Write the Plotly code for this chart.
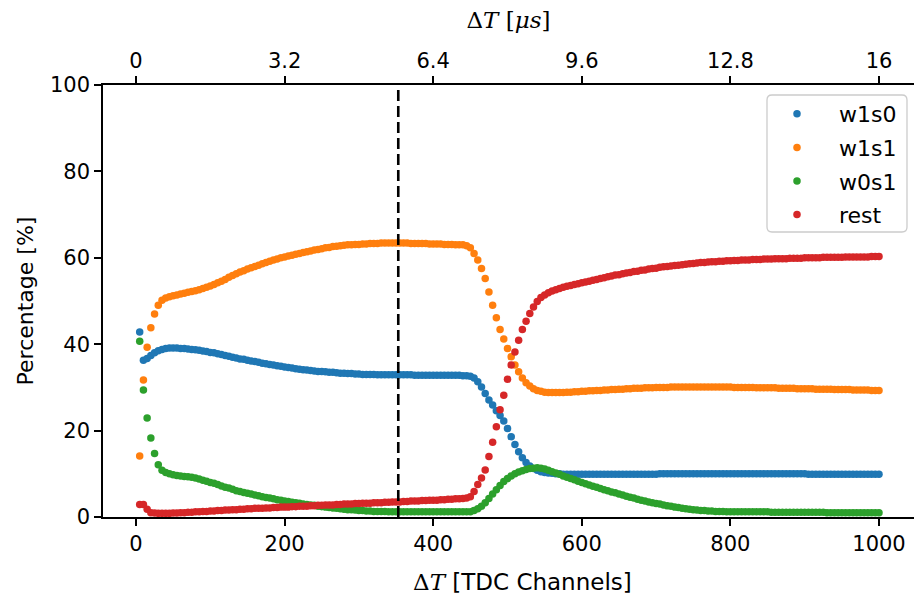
import plotly.graph_objects as go

# TDC channel grid (5-channel bins)
channels = list(range(5, 1001, 5))

w1s0 = [
    42.8, 36.3, 36.7, 37.4, 38.0, 38.5, 38.8, 39.0, 39.1, 39.1,
    39.1, 39.0, 39.0, 38.9, 38.8, 38.7, 38.6, 38.4, 38.3, 38.1,
    38.0, 37.8, 37.6, 37.4, 37.2, 37.0, 36.8, 36.6, 36.5, 36.3,
    36.1, 36.0, 35.8, 35.6, 35.5, 35.3, 35.2, 35.0, 34.9, 34.7,
    34.6, 34.5, 34.3, 34.2, 34.1, 34.0, 33.9, 33.8, 33.7, 33.7,
    33.6, 33.5, 33.5, 33.4, 33.3, 33.3, 33.2, 33.2, 33.1, 33.1,
    33.0, 33.0, 33.0, 33.0, 32.9, 32.9, 32.9, 32.9, 32.9, 32.9,
    32.9, 32.9, 32.9, 32.9, 32.8, 32.8, 32.8, 32.8, 32.8, 32.8,
    32.8, 32.8, 32.8, 32.8, 32.8, 32.8, 32.8, 32.7, 32.7, 32.6,
    32.2, 31.3, 30.1, 28.6, 27.1, 25.9, 24.6, 23.5, 22.2, 20.5,
    18.6, 16.8, 15.1, 13.7, 12.6, 11.8, 11.2, 10.8, 10.5, 10.3,
    10.2, 10.1, 10.0, 10.0, 9.9, 9.9, 9.9, 9.9, 9.9, 9.9,
    9.9, 9.9, 9.9, 9.9, 9.9, 9.9, 9.9, 9.9, 9.9, 9.9,
    9.9, 9.9, 9.9, 9.9, 9.9, 9.9, 9.9, 9.9, 9.9, 9.9,
    10.0, 10.0, 10.0, 10.0, 10.0, 10.0, 10.0, 10.0, 10.0, 10.0,
    10.0, 10.0, 10.0, 10.0, 10.0, 10.0, 10.0, 10.0, 10.0, 10.0,
    10.0, 10.0, 10.0, 10.0, 10.0, 10.0, 10.0, 10.0, 10.0, 10.0,
    10.0, 10.0, 10.0, 10.0, 10.0, 10.0, 10.0, 10.0, 10.0, 10.0,
    9.9, 9.9, 9.9, 9.9, 9.9, 9.9, 9.9, 9.9, 9.9, 9.9,
    9.9, 9.9, 9.9, 9.9, 9.9, 9.9, 9.9, 9.9, 9.9, 9.9,
]

w1s1 = [
    14.1, 31.7, 39.3, 43.8, 47.0, 49.0, 50.2, 50.7, 51.0, 51.2,
    51.4, 51.6, 51.8, 52.0, 52.2, 52.4, 52.6, 52.9, 53.2, 53.5,
    53.8, 54.2, 54.6, 55.0, 55.5, 55.9, 56.3, 56.7, 57.0, 57.4,
    57.7, 58.0, 58.3, 58.6, 58.9, 59.2, 59.5, 59.7, 60.0, 60.2,
    60.4, 60.6, 60.8, 61.0, 61.2, 61.4, 61.6, 61.8, 61.9, 62.1,
    62.3, 62.4, 62.6, 62.7, 62.8, 62.9, 63.0, 63.0, 63.1, 63.1,
    63.2, 63.2, 63.3, 63.3, 63.3, 63.4, 63.4, 63.4, 63.4, 63.4,
    63.4, 63.4, 63.4, 63.3, 63.3, 63.3, 63.3, 63.3, 63.2, 63.2,
    63.2, 63.2, 63.1, 63.1, 63.1, 63.0, 63.0, 63.0, 62.8, 62.3,
    61.0, 59.5, 57.5, 55.2, 52.1, 49.0, 46.1, 43.4, 41.2, 39.0,
    37.1, 35.2, 33.6, 32.2, 31.1, 30.3, 29.7, 29.3, 29.1, 28.9,
    28.8, 28.8, 28.8, 28.8, 28.8, 28.9, 28.9, 29.0, 29.0, 29.1,
    29.1, 29.2, 29.2, 29.3, 29.3, 29.4, 29.4, 29.5, 29.5, 29.6,
    29.6, 29.7, 29.7, 29.8, 29.8, 29.8, 29.9, 29.9, 29.9, 30.0,
    30.0, 30.0, 30.0, 30.1, 30.1, 30.1, 30.1, 30.1, 30.1, 30.1,
    30.1, 30.1, 30.1, 30.1, 30.1, 30.1, 30.1, 30.1, 30.1, 30.1,
    30.0, 30.0, 30.0, 30.0, 30.0, 30.0, 29.9, 29.9, 29.9, 29.9,
    29.9, 29.9, 29.8, 29.8, 29.8, 29.8, 29.8, 29.7, 29.7, 29.7,
    29.7, 29.7, 29.6, 29.6, 29.6, 29.6, 29.6, 29.5, 29.5, 29.5,
    29.5, 29.5, 29.4, 29.4, 29.4, 29.4, 29.4, 29.3, 29.3, 29.3,
]

w0s1 = [
    40.7, 29.4, 22.9, 18.3, 14.7, 12.1, 10.8, 10.3, 10.0, 9.8,
    9.6, 9.5, 9.4, 9.3, 9.2, 9.0, 8.8, 8.5, 8.3, 8.0,
    7.8, 7.5, 7.2, 6.9, 6.7, 6.4, 6.1, 5.9, 5.7, 5.5,
    5.3, 5.1, 4.9, 4.7, 4.5, 4.4, 4.2, 4.0, 3.9, 3.7,
    3.6, 3.4, 3.3, 3.2, 3.0, 2.9, 2.8, 2.7, 2.5, 2.4,
    2.3, 2.2, 2.1, 2.0, 1.9, 1.8, 1.7, 1.7, 1.6, 1.5,
    1.5, 1.4, 1.4, 1.3, 1.3, 1.3, 1.3, 1.2, 1.2, 1.2,
    1.2, 1.2, 1.2, 1.2, 1.2, 1.2, 1.2, 1.2, 1.2, 1.2,
    1.2, 1.2, 1.2, 1.2, 1.2, 1.2, 1.2, 1.2, 1.2, 1.2,
    1.5, 1.9, 2.5, 3.3, 4.3, 5.3, 6.3, 7.3, 8.2, 8.9,
    9.5, 10.0, 10.4, 10.7, 11.0, 11.2, 11.3, 11.4, 11.3, 11.1,
    10.8, 10.5, 10.2, 9.9, 9.5, 9.2, 8.9, 8.6, 8.3, 8.0,
    7.7, 7.4, 7.1, 6.9, 6.6, 6.3, 6.1, 5.8, 5.6, 5.3,
    5.1, 4.8, 4.6, 4.4, 4.1, 3.9, 3.7, 3.5, 3.3, 3.1,
    3.0, 2.8, 2.6, 2.5, 2.3, 2.2, 2.0, 1.9, 1.8, 1.7,
    1.6, 1.5, 1.5, 1.4, 1.4, 1.3, 1.3, 1.3, 1.2, 1.2,
    1.2, 1.2, 1.2, 1.2, 1.2, 1.2, 1.2, 1.2, 1.2, 1.2,
    1.1, 1.1, 1.1, 1.1, 1.1, 1.1, 1.1, 1.1, 1.1, 1.1,
    1.1, 1.1, 1.1, 1.1, 1.1, 1.0, 1.0, 1.0, 1.0, 1.0,
    1.0, 1.0, 1.0, 1.0, 1.0, 1.0, 1.0, 1.0, 1.0, 1.0,
]

rest = [
    2.9, 2.9, 1.8, 1.0, 0.9, 0.85, 0.85, 0.85, 0.85, 0.9,
    0.9, 1.0, 1.0, 1.1, 1.1, 1.2, 1.2, 1.3, 1.3, 1.4,
    1.4, 1.5, 1.5, 1.6, 1.6, 1.7, 1.7, 1.8, 1.8, 1.9,
    1.9, 2.0, 2.0, 2.0, 2.1, 2.1, 2.2, 2.2, 2.3, 2.3,
    2.3, 2.4, 2.4, 2.5, 2.5, 2.5, 2.6, 2.6, 2.7, 2.7,
    2.8, 2.8, 2.8, 2.9, 2.9, 3.0, 3.0, 3.0, 3.1, 3.1,
    3.2, 3.2, 3.2, 3.3, 3.3, 3.3, 3.4, 3.4, 3.5, 3.5,
    3.5, 3.6, 3.6, 3.7, 3.7, 3.7, 3.8, 3.8, 3.9, 3.9,
    3.9, 4.0, 4.0, 4.1, 4.1, 4.2, 4.2, 4.3, 4.4, 4.7,
    5.9, 7.5, 9.0, 10.9, 14.0, 17.3, 20.9, 24.8, 28.2, 31.9,
    35.2, 38.2, 40.9, 43.4, 45.3, 47.1, 48.6, 49.9, 50.8, 51.4,
    51.9, 52.3, 52.6, 52.9, 53.2, 53.4, 53.6, 53.8, 54.0, 54.2,
    54.4, 54.6, 54.8, 55.0, 55.2, 55.4, 55.6, 55.8, 56.0, 56.1,
    56.3, 56.5, 56.6, 56.8, 56.9, 57.1, 57.2, 57.4, 57.5, 57.6,
    57.8, 57.9, 58.0, 58.1, 58.2, 58.3, 58.4, 58.5, 58.6, 58.7,
    58.8, 58.9, 58.9, 59.0, 59.1, 59.1, 59.2, 59.2, 59.3, 59.3,
    59.4, 59.4, 59.5, 59.5, 59.5, 59.6, 59.6, 59.6, 59.7, 59.7,
    59.7, 59.8, 59.8, 59.8, 59.8, 59.9, 59.9, 59.9, 59.9, 60.0,
    60.0, 60.0, 60.0, 60.0, 60.1, 60.1, 60.1, 60.1, 60.1, 60.1,
    60.2, 60.2, 60.2, 60.2, 60.2, 60.2, 60.2, 60.3, 60.3, 60.3,
]

series_names = ["w1s0", "w1s1", "w0s1", "rest"]
series_colors = ["#1f77b4", "#ff7f0e", "#2ca02c", "#d62728"]

# bottom ticks (TDC channels) and matching top ticks (microseconds)
channel_ticks = [0, 200, 400, 600, 800, 1000]
time_tick_labels = ["0", "3.2", "6.4", "9.6", "12.8", "16"]

# selected cut position in TDC channels
cut_channel = 353

W, H = 914, 600
ML, MR, MT, MB = 103, 0, 85, 83
FONT = "DejaVu Sans, Verdana, sans-serif"
SERIF = "DejaVu Serif, Liberation Serif, serif"

fig = go.Figure()
for name, vals, col in zip(series_names, [w1s0, w1s1, w0s1, rest], series_colors):
    fig.add_trace(go.Scatter(
        x=channels, y=vals, mode="markers", name=name, legendgroup=name,
        marker=dict(color=col, size=7.5, line=dict(width=0)),
    ))

# invisible trace bound to the top axis so it gets drawn
fig.add_trace(go.Scatter(x=[channels[0]], y=[None], xaxis="x2", showlegend=False,
                         hoverinfo="skip"))

fig.add_shape(type="line", xref="x", yref="paper", x0=cut_channel, x1=cut_channel,
              y0=0, y1=1, line=dict(color="black", width=2.6, dash="11px,5px"))

pw, ph = W - ML - MR, H - MT - MB
def px(xv):
    return (xv - ML) / pw
def py(yv):
    return (H - MB - yv) / ph

# legend frame with rounded corners
lx0, lx1, ly0, ly1 = 767, 907, 95, 232
r = 5
path = (f"M {px(lx0 + r)},{py(ly0)} L {px(lx1 - r)},{py(ly0)} "
        f"Q {px(lx1)},{py(ly0)} {px(lx1)},{py(ly0 + r)} "
        f"L {px(lx1)},{py(ly1 - r)} Q {px(lx1)},{py(ly1)} {px(lx1 - r)},{py(ly1)} "
        f"L {px(lx0 + r)},{py(ly1)} Q {px(lx0)},{py(ly1)} {px(lx0)},{py(ly1 - r)} "
        f"L {px(lx0)},{py(ly0 + r)} Q {px(lx0)},{py(ly0)} {px(lx0 + r)},{py(ly0)} Z")
fig.add_shape(type="path", xref="paper", yref="paper", path=path, layer="above",
              fillcolor="rgba(255,255,255,0.8)", line=dict(color="#cccccc", width=1.3))

# bottom axis title
fig.add_annotation(
    text=f"<span style='font-family:{SERIF}'>Δ<i>T</i></span> [TDC Channels]",
    xref="paper", yref="paper", x=px(522), y=py(582), xanchor="center", yanchor="middle",
    showarrow=False, font=dict(family=FONT, size=23, color="black"),
)

xrange = [-44.4, 1047.1]
axis_common = dict(showline=True, linecolor="black", linewidth=1.6, ticks="outside",
                   ticklen=7, tickwidth=1.6, tickcolor="black", showgrid=False,
                   zeroline=False, tickfont=dict(family=FONT, size=21, color="black"))

fig.update_layout(
    width=W, height=H,
    margin=dict(l=ML, r=MR, t=MT, b=MB),
    paper_bgcolor="white", plot_bgcolor="white",
    font=dict(family=FONT, size=21, color="black"),
    showlegend=True,
    legend=dict(x=px(755), y=py(ly0 - 2), xanchor="left", yanchor="top",
                bgcolor="rgba(0,0,0,0)", borderwidth=0, tracegroupgap=2,
                itemwidth=74, font=dict(family=FONT, size=22, color="black")),
    xaxis=dict(range=xrange, tickvals=channel_ticks, **axis_common),
    xaxis2=dict(range=xrange, overlaying="x", side="top", tickvals=channel_ticks,
                ticktext=time_tick_labels,
                title=dict(text="Δ<i>T</i> [<i>μs</i>]", font=dict(family=SERIF, size=23),
                           standoff=14),
                **axis_common),
    yaxis=dict(range=[0, 100], tickvals=[0, 20, 40, 60, 80, 100],
               title=dict(text="Percentage [%]", font=dict(family=FONT, size=22), standoff=10),
               **axis_common),
)

fig.write_html("out.html")
